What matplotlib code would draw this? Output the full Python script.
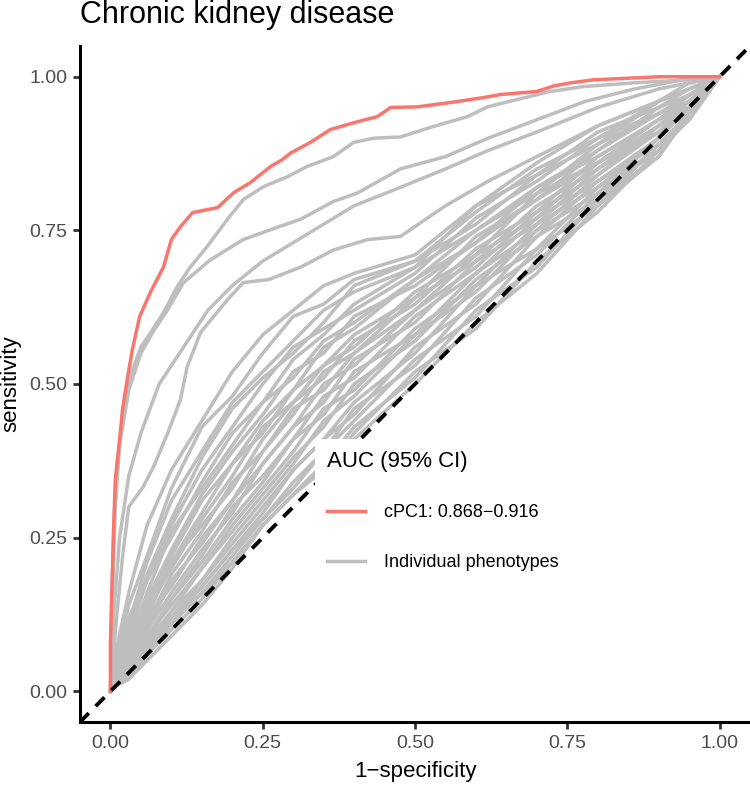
import matplotlib
matplotlib.use('Agg')
import matplotlib.pyplot as plt
from matplotlib.lines import Line2D

plt.rcParams['font.family'] = ['Liberation Sans', 'DejaVu Sans']
plt.rcParams['lines.scale_dashes'] = False

red = '#F8766D'
grey = '#BEBEBE'

# cPC1 ROC curve (1-specificity, sensitivity)
cpc1_fpr = [0, 0, 0.002, 0.004, 0.005, 0.008, 0.013, 0.02, 0.028, 0.036, 0.048, 0.066, 0.087,
            0.10, 0.115, 0.135, 0.176, 0.202, 0.23, 0.263, 0.282, 0.296, 0.328, 0.361, 0.399,
            0.438, 0.46, 0.504, 0.558, 0.612, 0.64, 0.70, 0.728, 0.755, 0.793, 0.903, 1.0]
cpc1_tpr = [0, 0.08, 0.15, 0.22, 0.26, 0.345, 0.39, 0.46, 0.51, 0.556, 0.61, 0.65, 0.69,
            0.735, 0.756, 0.779, 0.787, 0.811, 0.828, 0.854, 0.865, 0.876, 0.893, 0.914, 0.925,
            0.935, 0.95, 0.951, 0.958, 0.966, 0.971, 0.976, 0.985, 0.99, 0.995, 1.0, 1.0]

# the better individual phenotypes, each with its own points
top_fpr = [
    [0, 0.002, 0.006, 0.012, 0.02, 0.035, 0.05, 0.07, 0.087, 0.11, 0.131, 0.159, 0.192, 0.218, 0.251,
     0.29, 0.323, 0.366, 0.399, 0.432, 0.476, 0.53, 0.586, 0.619, 0.668, 0.722, 0.777, 0.859, 0.947, 1],
    [0, 0.003, 0.008, 0.015, 0.03, 0.05, 0.07, 0.094, 0.12, 0.164, 0.218, 0.274, 0.312, 0.366, 0.406,
     0.476, 0.55, 0.62, 0.7, 0.78, 0.86, 0.94, 1],
    [0, 0.005, 0.015, 0.03, 0.05, 0.08, 0.12, 0.16, 0.2, 0.25, 0.3, 0.35, 0.4, 0.476, 0.55, 0.62,
     0.7, 0.8, 0.9, 1],
    [0, 0.01, 0.02, 0.03, 0.054, 0.071, 0.094, 0.115, 0.126, 0.148, 0.192, 0.218, 0.26, 0.312, 0.366,
     0.422, 0.476, 0.55, 0.62, 0.7, 0.8, 0.9, 1],
]
top_tpr = [
    [0, 0.15, 0.28, 0.38, 0.44, 0.52, 0.56, 0.59, 0.616, 0.659, 0.69, 0.724, 0.768, 0.80, 0.821,
     0.837, 0.854, 0.87, 0.893, 0.90, 0.902, 0.919, 0.935, 0.951, 0.963, 0.976, 0.984, 0.99, 0.995, 1],
    [0, 0.15, 0.3, 0.4, 0.49, 0.55, 0.585, 0.621, 0.665, 0.702, 0.735, 0.755, 0.768, 0.797, 0.811,
     0.85, 0.87, 0.9, 0.93, 0.96, 0.98, 0.995, 1],
    [0, 0.12, 0.25, 0.35, 0.42, 0.5, 0.56, 0.62, 0.66, 0.7, 0.73, 0.76, 0.79, 0.82, 0.85, 0.88,
     0.91, 0.95, 0.98, 1],
    [0, 0.12, 0.22, 0.30, 0.333, 0.366, 0.42, 0.475, 0.528, 0.584, 0.637, 0.665, 0.67, 0.69, 0.718,
     0.735, 0.74, 0.79, 0.83, 0.87, 0.92, 0.96, 1],
]

# the main bundle of individual phenotypes, read at common 1-specificity values
bundle_fpr = [0, 0.01, 0.03, 0.06, 0.1, 0.15, 0.2, 0.25, 0.3, 0.35, 0.4, 0.5, 0.6, 0.7, 0.8, 0.9, 0.95, 1.0]
bundle_tpr = [
    [0, 0.07, 0.16, 0.27, 0.36, 0.44, 0.52, 0.58, 0.62, 0.66, 0.68, 0.71, 0.79, 0.86, 0.92, 0.96, 0.98, 1],
    [0, 0.05, 0.14, 0.22, 0.33, 0.43, 0.48, 0.55, 0.61, 0.63, 0.67, 0.70, 0.78, 0.85, 0.90, 0.96, 0.99, 1],
    [0, 0.04, 0.11, 0.21, 0.31, 0.39, 0.47, 0.52, 0.57, 0.62, 0.65, 0.69, 0.79, 0.84, 0.91, 0.95, 0.97, 1],
    [0, 0.05, 0.10, 0.19, 0.28, 0.38, 0.46, 0.51, 0.55, 0.60, 0.66, 0.70, 0.76, 0.84, 0.89, 0.96, 0.98, 1],
    [0, 0.03, 0.09, 0.18, 0.27, 0.36, 0.43, 0.50, 0.56, 0.59, 0.62, 0.68, 0.77, 0.83, 0.90, 0.94, 0.97, 1],
    [0, 0.06, 0.12, 0.18, 0.25, 0.34, 0.42, 0.47, 0.54, 0.58, 0.63, 0.69, 0.75, 0.82, 0.88, 0.95, 0.98, 1],
    [0, 0.03, 0.08, 0.16, 0.26, 0.33, 0.40, 0.47, 0.51, 0.57, 0.60, 0.67, 0.75, 0.81, 0.89, 0.94, 0.97, 1],
    [0, 0.02, 0.09, 0.15, 0.23, 0.32, 0.39, 0.45, 0.52, 0.55, 0.61, 0.66, 0.73, 0.82, 0.87, 0.93, 0.96, 1],
    [0, 0.04, 0.09, 0.14, 0.22, 0.31, 0.37, 0.44, 0.49, 0.56, 0.59, 0.67, 0.73, 0.80, 0.88, 0.94, 0.96, 1],
    [0, 0.02, 0.07, 0.14, 0.21, 0.29, 0.37, 0.42, 0.49, 0.53, 0.58, 0.64, 0.74, 0.80, 0.86, 0.93, 0.97, 1],
    [0, 0.03, 0.07, 0.13, 0.20, 0.28, 0.35, 0.43, 0.47, 0.53, 0.56, 0.65, 0.71, 0.81, 0.86, 0.92, 0.96, 1],
    [0, 0.02, 0.06, 0.12, 0.21, 0.27, 0.33, 0.41, 0.47, 0.51, 0.57, 0.63, 0.72, 0.78, 0.87, 0.93, 0.95, 1],
    [0, 0.03, 0.06, 0.11, 0.19, 0.26, 0.34, 0.39, 0.45, 0.52, 0.55, 0.64, 0.70, 0.79, 0.85, 0.92, 0.96, 1],
    [0, 0.02, 0.05, 0.12, 0.17, 0.25, 0.31, 0.39, 0.46, 0.49, 0.55, 0.62, 0.71, 0.77, 0.86, 0.91, 0.95, 1],
    [0, 0.01, 0.05, 0.10, 0.18, 0.24, 0.31, 0.37, 0.43, 0.50, 0.53, 0.62, 0.69, 0.78, 0.84, 0.92, 0.95, 1],
    [0, 0.02, 0.05, 0.10, 0.16, 0.23, 0.29, 0.37, 0.43, 0.47, 0.54, 0.60, 0.70, 0.76, 0.85, 0.91, 0.96, 1],
    [0, 0.01, 0.04, 0.09, 0.15, 0.22, 0.30, 0.35, 0.41, 0.48, 0.51, 0.61, 0.68, 0.77, 0.83, 0.90, 0.95, 1],
    [0, 0.02, 0.04, 0.08, 0.15, 0.21, 0.28, 0.34, 0.41, 0.45, 0.52, 0.58, 0.68, 0.75, 0.84, 0.91, 0.94, 1],
    [0, 0.01, 0.04, 0.09, 0.14, 0.20, 0.27, 0.33, 0.39, 0.46, 0.49, 0.59, 0.66, 0.76, 0.82, 0.90, 0.95, 1],
    [0, 0.01, 0.03, 0.07, 0.13, 0.20, 0.26, 0.32, 0.38, 0.43, 0.50, 0.57, 0.67, 0.74, 0.83, 0.89, 0.94, 1],
    [0, 0.02, 0.04, 0.08, 0.13, 0.18, 0.25, 0.31, 0.37, 0.44, 0.48, 0.58, 0.65, 0.75, 0.81, 0.90, 0.95, 1],
    [0, 0.01, 0.03, 0.07, 0.12, 0.18, 0.24, 0.30, 0.36, 0.41, 0.47, 0.55, 0.66, 0.72, 0.82, 0.88, 0.94, 1],
    [0, 0.01, 0.03, 0.07, 0.12, 0.17, 0.23, 0.29, 0.36, 0.41, 0.45, 0.56, 0.63, 0.74, 0.80, 0.89, 0.93, 1],
    [0, 0.01, 0.03, 0.06, 0.11, 0.17, 0.23, 0.28, 0.34, 0.39, 0.46, 0.53, 0.64, 0.71, 0.81, 0.88, 0.94, 1],
    [0, 0.01, 0.02, 0.06, 0.11, 0.16, 0.22, 0.28, 0.33, 0.39, 0.44, 0.54, 0.61, 0.72, 0.79, 0.89, 0.93, 1],
    [0, 0.01, 0.03, 0.07, 0.11, 0.16, 0.21, 0.27, 0.32, 0.37, 0.43, 0.51, 0.62, 0.69, 0.80, 0.87, 0.94, 1],
    [0, 0.01, 0.02, 0.06, 0.10, 0.15, 0.21, 0.27, 0.32, 0.36, 0.42, 0.52, 0.59, 0.70, 0.78, 0.88, 0.93, 1],
    [0, 0.01, 0.02, 0.05, 0.09, 0.14, 0.20, 0.27, 0.32, 0.37, 0.41, 0.50, 0.60, 0.68, 0.79, 0.87, 0.94, 1],
]

fig = plt.figure(figsize=(7.5, 7.85), dpi=100)
ax = fig.add_axes([80 / 750, 1 - 722 / 785, 670 / 750, 676 / 785])

lw = 2.5
for ys in bundle_tpr:
    ax.plot(bundle_fpr, ys, color=grey, lw=lw, zorder=2)
for xs, ys in zip(top_fpr, top_tpr):
    ax.plot(xs, ys, color=grey, lw=lw, zorder=2)
ax.plot(cpc1_fpr, cpc1_tpr, color=red, lw=lw, zorder=3)

diag = Line2D([-0.05, 1.05], [-0.05, 1.05], color='black', lw=2.8, zorder=4)
diag.set_dashes((9, 7))
ax.add_line(diag)

ax.set_xlim(-0.05, 1.05)
ax.set_ylim(-0.05, 1.05)
ticks = [0, 0.25, 0.5, 0.75, 1.0]
tick_labels = ['0.00', '0.25', '0.50', '0.75', '1.00']
ax.set_xticks(ticks)
ax.set_yticks(ticks)
ax.set_xticklabels(tick_labels)
ax.set_yticklabels(tick_labels)
ax.tick_params(length=5, width=2, color='#333333', labelcolor='#4D4D4D', labelsize=14, pad=4)
for s in ['top', 'right']:
    ax.spines[s].set_visible(False)
for s in ['left', 'bottom']:
    ax.spines[s].set_linewidth(2.2)
ax.set_xlabel('1\u2212specificity', fontsize=16, labelpad=6.5)
ax.set_ylabel('sensitivity', fontsize=16, labelpad=6)

fig.text(80 / 750, 1 - 23 / 785, 'Chronic kidney disease', fontsize=22, va='baseline', ha='left')

handles = [Line2D([], [], color=red, lw=lw), Line2D([], [], color=grey, lw=lw)]
leg = ax.legend(handles, ['cPC1: 0.868\u22120.916', 'Individual phenotypes'],
                title='AUC (95% CI)', title_fontsize=16, fontsize=13,
                loc='upper left', bbox_to_anchor=((0.321 + 0.05) / 1.1, (0.425 + 0.05) / 1.1),
                frameon=True, facecolor='white', edgecolor='none', framealpha=1,
                fancybox=False, borderpad=0.65, labelspacing=1.8, handlelength=2.1,
                handletextpad=1.05, alignment='left')
leg.set_zorder(10)

fig.savefig('out.png', dpi=100)
